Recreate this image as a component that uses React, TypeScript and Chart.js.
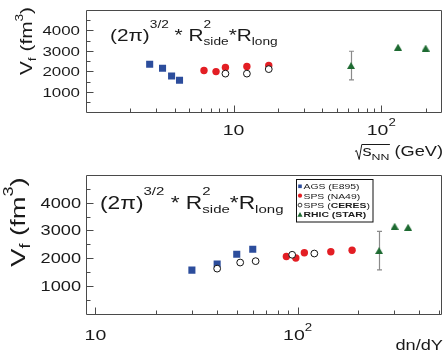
import React, { useEffect, useRef } from "react";
import { Chart, registerables } from "chart.js";
Chart.register(...registerables);

const FONT = '"Liberation Sans", Arial, Helvetica, sans-serif';
const SX = 1.3;
const TXT = "#1a1a1a";
const FRAME = "#4a4a4a";
const BLUE = "#2c4d9c";
const RED = "#e31e24";
const GREEN = "#1d6a31";
const ERRC = "#8a8a8a";

// ---- top panel: sqrt(s_NN) in GeV ----
const agsSqrtS = [2.7, 3.3, 3.8, 4.3];
const agsVolTop = [2350, 2150, 1770, 1570];
const na49SqrtS = [6.3, 7.6, 8.8, 12.3, 17.3];
const na49VolTop = [2040, 1990, 2190, 2235, 2285];
const ceresSqrtS = [8.8, 12.3, 17.3];
const ceresVolTop = [1890, 1890, 2110];
const starSqrtS = [62.4, 130, 200];
const starVolTop = [2285, 3185, 3140];
const starErrTop = [700, 0, 0];

// ---- bottom panel: dn/dY ----
const agsDndy = [30, 40, 50, 60];
const agsVol = [1565, 1790, 2140, 2320];
const na49Dndy = [88, 98, 108, 146, 186];
const na49Vol = [2060, 2005, 2195, 2230, 2285];
const ceresDndy = [40, 52, 62, 94, 121];
const ceresVol = [1620, 1840, 1890, 2120, 2165];
const starDndy = [253, 302, 352];
const starVol = [2270, 3150, 3115];
const starErr = [695, 0, 0];

// ---- axes ----
const yTickValues = [500, 1000, 1500, 2000, 2500, 3000, 3500, 4000, 4500];
const yTickLabels = [1000, 2000, 3000, 4000];
const xTicksTop = [1, 2, 3, 4, 5, 6, 7, 8, 9, 10, 20, 30, 40, 50, 60, 70, 80, 90, 100, 200];
const xTicksBottom = [9, 10, 20, 30, 40, 50, 60, 70, 80, 90, 100, 200, 300, 400, 500];
const xMajor = [1, 10, 100];
const xTickLabels = [10, 100];

const legendLabels = ["AGS (E895)", "SPS (NA49)", "SPS (CERES)", "RHIC (STAR)"];

type Seg = { t: string; size: number; dy?: number; bold?: boolean; noAdv?: boolean };

function segFont(s: Seg) {
  return `${s.bold ? "bold " : ""}${s.size}px ${FONT}`;
}
function richWidth(ctx: CanvasRenderingContext2D, segs: Seg[]) {
  let w = 0;
  for (const s of segs) {
    ctx.font = segFont(s);
    if (!s.noAdv) w += ctx.measureText(s.t).width * SX;
  }
  return w;
}
function drawRich(
  ctx: CanvasRenderingContext2D,
  x: number,
  y: number,
  segs: Seg[],
  align: "left" | "right" | "center" = "left",
  rotate = false
) {
  ctx.save();
  ctx.translate(x, y);
  if (rotate) ctx.rotate(-Math.PI / 2);
  const w = richWidth(ctx, segs);
  let cx = align === "left" ? 0 : align === "right" ? -w : -w / 2;
  ctx.fillStyle = TXT;
  ctx.textBaseline = "alphabetic";
  ctx.textAlign = "left";
  for (const s of segs) {
    ctx.font = segFont(s);
    const m = ctx.measureText(s.t).width;
    ctx.save();
    ctx.translate(cx, s.dy || 0);
    ctx.scale(SX, 1);
    ctx.fillText(s.t, 0, 0);
    ctx.restore();
    if (!s.noAdv) cx += m * SX;
  }
  ctx.restore();
  return w;
}

function makeTriangle(w: number, h: number, color: string) {
  const c = document.createElement("canvas");
  c.width = w;
  c.height = h;
  const g = c.getContext("2d")!;
  g.fillStyle = color;
  g.beginPath();
  g.moveTo(0, h);
  g.lineTo(w / 2, 0);
  g.lineTo(w, h);
  g.closePath();
  g.fill();
  return c;
}

function pts(xs: number[], ys: number[]) {
  return xs.map((x, i) => ({ x, y: ys[i] }));
}

interface PanelSpec {
  name: string;
  top: number;
  height: number;
  pad: { left: number; top: number; bottom: number };
  xMin: number;
  xMax: number;
  xTicks: number[];
  yLabelSize: number;
  yLabelRight: number;
  xLabelSize: number;
  xLabelBaseline: number;
  sets: { ags: [number[], number[]]; na49: [number[], number[]]; ceres: [number[], number[]]; star: [number[], number[]] };
  err: number[];
  extra: (ctx: CanvasRenderingContext2D, chart: any) => void;
}

function Panel({ spec }: { spec: PanelSpec }) {
  const ref = useRef<HTMLCanvasElement>(null);
  useEffect(() => {
    const tri = makeTriangle(8, 7, GREEN);
    const overlay = {
      id: "overlay_" + spec.name,
      beforeDatasetsDraw(chart: any) {
        const ctx = chart.ctx as CanvasRenderingContext2D;
        const xs = chart.scales.x;
        const ys = chart.scales.y;
        const [sx, sy] = spec.sets.star;
        ctx.save();
        ctx.strokeStyle = ERRC;
        ctx.lineWidth = 1.2;
        sx.forEach((xv, i) => {
          const e = spec.err[i];
          if (!e) return;
          const px = Math.round(xs.getPixelForValue(xv)) + 0.5;
          const y1 = ys.getPixelForValue(sy[i] + e);
          const y2 = ys.getPixelForValue(sy[i] - e);
          ctx.beginPath();
          ctx.moveTo(px, y1);
          ctx.lineTo(px, y2);
          ctx.moveTo(px - 2.5, y1);
          ctx.lineTo(px + 2.5, y1);
          ctx.moveTo(px - 2.5, y2);
          ctx.lineTo(px + 2.5, y2);
          ctx.stroke();
        });
        ctx.restore();
      },
      afterDatasetsDraw(chart: any) {
        const ctx = chart.ctx as CanvasRenderingContext2D;
        const xs = chart.scales.x;
        const ys = chart.scales.y;
        const { left, right, top, bottom } = chart.chartArea;
        ctx.save();
        ctx.strokeStyle = FRAME;
        ctx.lineWidth = 1;
        const L = Math.round(left) + 0.5;
        const B = Math.round(bottom) + 0.5;
        const T = Math.round(top) + 0.5;
        const R = Math.round(right) - 0.5;
        ctx.beginPath();
        ctx.moveTo(L, T);
        ctx.lineTo(R, T);
        ctx.lineTo(R, B);
        ctx.lineTo(L, B);
        ctx.closePath();
        for (const v of spec.xTicks) {
          const px = Math.round(xs.getPixelForValue(v)) + 0.5;
          if (px < left + 1.5 || px > right - 1.5) continue;
          const len = xMajor.includes(v) ? 7 : 4;
          ctx.moveTo(px, B);
          ctx.lineTo(px, B - len);
        }
        for (const v of yTickValues) {
          const py = Math.round(ys.getPixelForValue(v)) + 0.5;
          const len = v % 1000 === 0 ? 7 : 4;
          ctx.moveTo(L, py);
          ctx.lineTo(L + len, py);
        }
        ctx.stroke();
        ctx.restore();

        // y tick labels
        for (const v of yTickLabels) {
          const py = ys.getPixelForValue(v);
          drawRich(ctx, spec.yLabelRight, py + spec.yLabelSize * 0.36, [{ t: String(v), size: spec.yLabelSize }], "right");
        }
        // x tick labels
        for (const v of xTickLabels) {
          const px = xs.getPixelForValue(v);
          const ex = Math.round(Math.log10(v));
          const segs: Seg[] =
            ex === 1
              ? [{ t: "10", size: spec.xLabelSize }]
              : [
                  { t: "10", size: spec.xLabelSize },
                  { t: String(ex), size: spec.xLabelSize * 0.68, dy: -spec.xLabelSize * 0.62 },
                ];
          drawRich(ctx, px, spec.xLabelBaseline, segs, "center");
        }
        spec.extra(ctx, chart);
      },
    };

    const [ax, ay] = spec.sets.ags;
    const [nx, ny] = spec.sets.na49;
    const [cx, cy] = spec.sets.ceres;
    const [tx, ty] = spec.sets.star;
    const chart = new Chart(ref.current!, {
      type: "scatter",
      data: {
        datasets: [
          {
            label: "SPS (CERES)",
            data: pts(cx, cy),
            pointStyle: "circle",
            pointRadius: 3.4,
            backgroundColor: "#ffffff",
            borderColor: "#111111",
            borderWidth: 1,
            order: 0,
          },
          {
            label: "SPS (NA49)",
            data: pts(nx, ny),
            pointStyle: "circle",
            pointRadius: 3.7,
            backgroundColor: RED,
            borderColor: RED,
            borderWidth: 0,
            order: 1,
          },
          {
            label: "AGS (E895)",
            data: pts(ax, ay),
            pointStyle: "rect",
            pointRadius: 5,
            backgroundColor: BLUE,
            borderColor: BLUE,
            borderWidth: 0,
            order: 2,
          },
          {
            label: "RHIC (STAR)",
            data: pts(tx, ty),
            pointStyle: tri as any,
            pointRadius: 4,
            backgroundColor: GREEN,
            borderColor: GREEN,
            order: 3,
          },
        ] as any,
      },
      options: {
        animation: false,
        responsive: true,
        maintainAspectRatio: false,
        events: [],
        layout: { padding: { left: spec.pad.left, top: spec.pad.top, right: 0, bottom: spec.pad.bottom } },
        scales: {
          x: { type: "logarithmic", min: spec.xMin, max: spec.xMax, display: false },
          y: { type: "linear", min: 0, max: 5000, display: false },
        },
        plugins: { legend: { display: false }, tooltip: { enabled: false } },
      } as any,
      plugins: [overlay],
    });
    return () => chart.destroy();
  }, []);
  return (
    <div style={{ position: "absolute", left: 0, top: spec.top, width: 447, height: spec.height }}>
      <canvas ref={ref} />
    </div>
  );
}

function formula(size: number): Seg[] {
  const s = size * 0.66;
  return [
    { t: "(2\u03c0)", size },
    { t: "3/2", size: s, dy: -size * 0.78 },
    { t: " * R", size },
    { t: "2", size: s, dy: -size * 0.82, noAdv: true },
    { t: "side", size: s, dy: size * 0.25 },
    { t: "*R", size },
    { t: "long", size: s, dy: size * 0.25 },
  ];
}

function yTitle(size: number): Seg[] {
  const s = size * 0.66;
  return [
    { t: "V", size },
    { t: "f", size: s, dy: size * 0.25 },
    { t: " (fm", size },
    { t: "3", size: s, dy: -size * 0.55 },
    { t: ")", size },
  ];
}

const topSpec: PanelSpec = {
  name: "top",
  top: 0,
  height: 170,
  pad: { left: 86, top: 10, bottom: 57.7 },
  xMin: 1,
  xMax: 258,
  xTicks: xTicksTop,
  yLabelSize: 13,
  yLabelRight: 80,
  xLabelSize: 15,
  xLabelBaseline: 135,
  sets: {
    ags: [agsSqrtS, agsVolTop],
    na49: [na49SqrtS, na49VolTop],
    ceres: [ceresSqrtS, ceresVolTop],
    star: [starSqrtS, starVolTop],
  },
  err: starErrTop,
  extra(ctx) {
    drawRich(ctx, 31.7, 75, yTitle(16), "left", true);
    drawRich(ctx, 110, 40.7, formula(16), "left");
    // sqrt(s_NN) (GeV)
    const base = 156;
    const segs: Seg[] = [
      { t: "s", size: 14 },
      { t: "NN", size: 9.5, dy: 3.5 },
      { t: " (GeV)", size: 14 },
    ];
    const w = richWidth(ctx, segs);
    const xEnd = 443;
    const xStart = xEnd - w;
    ctx.save();
    ctx.font = segFont(segs[0]);
    const sW = ctx.measureText("s").width * SX;
    ctx.font = segFont(segs[1]);
    const nW = ctx.measureText("NN").width * SX;
    ctx.restore();
    drawRich(ctx, xStart, base, segs, "left");
    const r0 = xStart - 7.5;
    ctx.save();
    ctx.strokeStyle = TXT;
    ctx.lineWidth = 1;
    ctx.beginPath();
    ctx.moveTo(r0, base - 4.5);
    ctx.lineTo(r0 + 1.5, base - 5.5);
    ctx.lineTo(r0 + 4.2, base + 3.5);
    ctx.lineTo(r0 + 6.8, base - 11.5);
    ctx.lineTo(xStart + sW + nW + 0.5, base - 11.5);
    ctx.stroke();
    ctx.restore();
  },
};

const bottomSpec: PanelSpec = {
  name: "bottom",
  top: 170,
  height: 187,
  pad: { left: 86, top: 5, bottom: 43.5 },
  xMin: 8.98,
  xMax: 518,
  xTicks: xTicksBottom,
  yLabelSize: 14,
  yLabelRight: 81,
  xLabelSize: 15,
  xLabelBaseline: 170,
  sets: {
    ags: [agsDndy, agsVol],
    na49: [na49Dndy, na49Vol],
    ceres: [ceresDndy, ceresVol],
    star: [starDndy, starVol],
  },
  err: starErr,
  extra(ctx) {
    drawRich(ctx, 25, 96.7, yTitle(21), "left", true);
    drawRich(ctx, 100, 39, formula(17.5), "left");
    drawRich(ctx, 443, 179.5, [{ t: "dn/dY", size: 14 }], "right");
    // legend
    ctx.save();
    ctx.fillStyle = "#ffffff";
    ctx.fillRect(296.5, 9.5, 76.5, 42.5);
    ctx.strokeStyle = "#111";
    ctx.lineWidth = 1;
    ctx.strokeRect(296.5, 9.5, 76.5, 42.5);
    ctx.restore();
    const rowY = [16.3, 25.7, 35.1, 44.5];
    const mx = 300;
    const tx = 303.5;
    const fs = 8;
    legendLabels.forEach((lab, i) => {
      const cy = rowY[i];
      ctx.save();
      if (i === 0) {
        ctx.fillStyle = BLUE;
        ctx.fillRect(mx - 1.8, cy - 1.8, 3.6, 3.6);
      } else if (i === 1) {
        ctx.fillStyle = RED;
        ctx.beginPath();
        ctx.arc(mx, cy, 2.1, 0, Math.PI * 2);
        ctx.fill();
      } else if (i === 2) {
        ctx.strokeStyle = "#111";
        ctx.lineWidth = 0.8;
        ctx.beginPath();
        ctx.arc(mx, cy, 1.9, 0, Math.PI * 2);
        ctx.stroke();
      } else {
        ctx.fillStyle = GREEN;
        ctx.beginPath();
        ctx.moveTo(mx - 2.6, cy + 2.2);
        ctx.lineTo(mx, cy - 2.4);
        ctx.lineTo(mx + 2.6, cy + 2.2);
        ctx.closePath();
        ctx.fill();
      }
      ctx.restore();
      let segs: Seg[];
      if (i === 2) {
        const p = lab.indexOf("(");
        segs = [
          { t: lab.slice(0, p + 1), size: fs },
          { t: lab.slice(p + 1, lab.length - 1), size: fs, bold: true },
          { t: ")", size: fs },
        ];
      } else if (i === 3) {
        segs = [{ t: lab, size: fs, bold: true }];
      } else {
        segs = [{ t: lab, size: fs }];
      }
      drawRich(ctx, tx, cy + fs * 0.36, segs, "left");
    });
  },
};

export default function App() {
  return (
    <div
      style={{
        position: "absolute",
        left: 0,
        top: 0,
        width: 445,
        height: 357,
        overflow: "hidden",
        background: "#ffffff",
      }}
    >
      <Panel spec={topSpec} />
      <Panel spec={bottomSpec} />
    </div>
  );
}
